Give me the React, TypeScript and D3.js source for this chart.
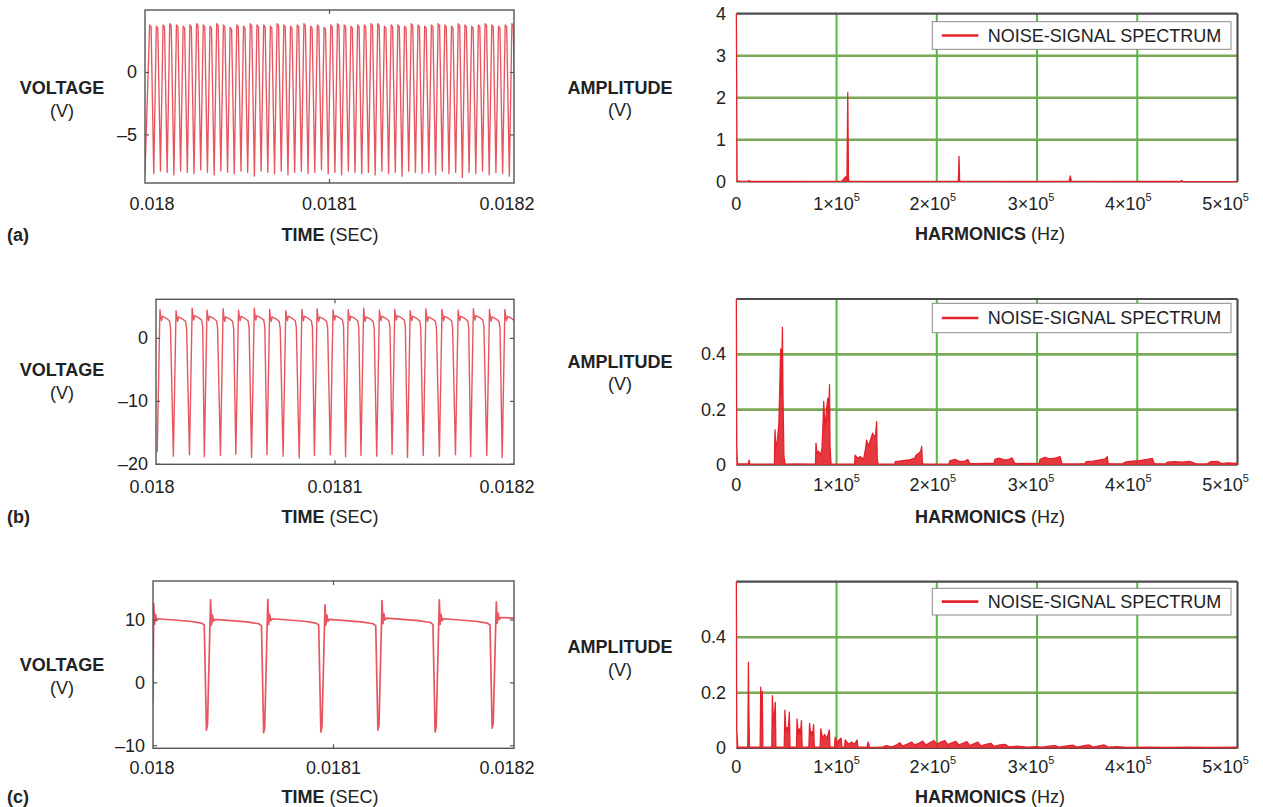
import React from "react";
import * as d3 from "d3";

const FONT = "'Liberation Sans', Arial, Helvetica, sans-serif";
const RED = "#e3222c";

// ---------------- DATA ----------------
const timeTicks = [0.018, 0.0181, 0.0182];
const timeTickLabels = ["0.018", "0.0181", "0.0182"];
const freqTicks = [0, 1e5, 2e5, 3e5, 4e5, 5e5];
const freqTickMantissa = ["0", "1", "2", "3", "4", "5"];
const legendLabel = "NOISE-SIGNAL SPECTRUM";

// (a) per-cycle maxima / minima of the voltage trace (V)
const aHigh = [
  3.8, 3.7, 3.8, 3.9, 3.8, 3.7, 3.8, 3.9,
  3.8, 3.7, 3.9, 3.8, 3.6, 3.8, 3.7, 3.9,
  3.8, 3.8, 3.7, 3.9, 3.8, 3.7, 3.8, 3.9,
  3.7, 3.8, 3.6, 3.8, 3.9, 3.8, 3.7, 3.8,
  3.8, 3.9, 3.9, 3.7, 3.8, 3.8, 3.7, 3.9,
  3.8, 3.7, 3.8, 3.9, 3.8, 3.7, 3.9, 3.8,
  3.7, 3.8, 3.9, 3.8, 3.7, 3.8, 3.9, 3.8,
];
const aLow = [
  -8.1, -7.9, -8.0, -8.2, -7.9, -8.0, -8.1, -7.8,
  -8.0, -8.2, -7.9, -8.0, -8.1, -7.9, -8.0, -8.3,
  -7.9, -8.0, -8.1, -7.9, -8.2, -8.0, -7.9, -8.1,
  -8.0, -7.8, -8.1, -8.0, -8.2, -7.9, -8.0, -8.1,
  -8.0, -8.2, -7.9, -8.1, -8.0, -8.3, -7.9, -8.0,
  -8.1, -8.0, -8.2, -7.9, -8.1, -8.0, -8.4, -8.0,
  -8.1, -7.9, -8.2, -8.0, -8.1, -8.3, -8.0, -8.1,
];
const aVoltTicks = [0, -5];
const aVoltLabels = ["0", "\u20135"];

// (b) spike instants (µs after 0.018 s), spike / plateau / trough levels (V)
const bSpikeTimesUs = [
  2.2, 11.2, 20.2, 28.5, 37.5, 46.1, 54.9, 63.5, 72.5, 81.5, 90.0, 98.9,
  107.4, 116.0, 124.8, 133.4, 142.0, 150.8, 159.8, 168.8, 177.3, 186.3, 194.9,
];
const bSpike = [
  4.6, 4.4, 4.8, 4.5, 4.7, 4.5, 4.8, 4.6, 4.4, 4.6, 4.7, 4.5,
  4.6, 4.8, 4.5, 4.6, 4.4, 4.7, 4.6, 4.5, 4.7, 4.6, 4.6,
];
const bPlateau = [
  3.2, 3.1, 3.3, 3.2, 3.1, 3.2, 3.3, 3.1, 3.2, 3.2, 3.1, 3.3,
  3.2, 3.1, 3.2, 3.3, 3.2, 3.1, 3.2, 3.2, 3.3, 3.1, 3.2,
];
const bTrough = [
  -18.0, -18.7, -18.5, -18.8, -18.6, -18.4, -18.9, -18.5, -18.7, -19.0, -18.6, -18.5,
  -18.8, -18.6, -18.7, -18.4, -18.9, -18.6, -18.7, -18.5, -18.8, -18.6, -18.9,
];
const bVoltTicks = [0, -10, -20];
const bVoltLabels = ["0", "\u201310", "\u201320"];

// (c)
const cStartV = -3.2;
const cSpikeTimesUs = [0.4, 31.9, 63.6, 95.3, 126.9, 158.6, 190.2];
const cSpike = [12.6, 13.2, 13.3, 12.4, 13.1, 13.2, 12.9];
const cPlateau = [10.1, 10.0, 10.1, 10.0, 10.2, 10.1, 10.3];
const cFallTimesUs = [28.4, 60.1, 91.8, 123.4, 155.1, 186.7];
const cTrough = [-7.5, -7.9, -7.8, -7.5, -7.8, -7.2];
const cVoltTicks = [10, 0, -10];
const cVoltLabels = ["10", "0", "\u201310"];

// spectra: [frequency kHz, amplitude V]
const specA: [number, number][] = [
  [0, 4.3], [0.8, 0.02], [5, 0.01], [12, 0.01], [12.7, 0.03], [13.5, 0.005],
  [60, 0.005], [105, 0.008], [109.2, 0.12], [109.8, 0.04], [110.4, 0.06],
  [111.2, 2.12], [111.9, 0.05], [113, 0.008], [160, 0.005], [220, 0.008],
  [221.6, 0.02], [222.2, 0.6], [222.8, 0.015], [280, 0.005], [332, 0.01],
  [333.2, 0.14], [334.2, 0.01], [400, 0.005], [443.5, 0.005], [444.5, 0.03],
  [445.5, 0.005], [500, 0.004],
];
const specATicks = [0, 1, 2, 3, 4];
const specAGrid = [1, 2, 3];

const specB: [number, number][] = [
  [0, 0.7], [0.4, 0.07], [1.2, 0.004], [12, 0.004], [12.8, 0.018], [13.5, 0.003],
  [38, 0.003], [38.6, 0.127], [39.5, 0.06], [41, 0.09], [42.5, 0.15], [43.5, 0.3],
  [44.3, 0.42], [45, 0.25], [46.0, 0.497], [46.5, 0.27], [47.5, 0.03], [48.7, 0.003],
  [60, 0.004], [79, 0.003], [79.5, 0.079], [80.5, 0.04], [82, 0.05], [84, 0.035],
  [85.5, 0.06], [86.5, 0.15], [87.2, 0.23], [88.5, 0.13], [90, 0.2], [91.3, 0.242],
  [92, 0.16], [93, 0.29], [93.5, 0.067], [94.5, 0.003], [118, 0.003], [118.5, 0.036],
  [121, 0.025], [124, 0.03], [127, 0.02], [129, 0.06], [130, 0.09], [131.5, 0.07],
  [133, 0.08], [136, 0.115], [137.5, 0.1], [139, 0.11], [140, 0.157], [140.6, 0.02],
  [141.5, 0.003], [158, 0.003], [158.5, 0.012], [165, 0.015], [172, 0.018],
  [178, 0.025], [179.5, 0.036], [182, 0.042], [184, 0.05], [185, 0.067], [185.6, 0.006],
  [187, 0.003], [212, 0.003], [213, 0.015], [218, 0.02], [223, 0.012], [228, 0.014],
  [231, 0.02], [233, 0.005], [240, 0.005], [250, 0.006], [257, 0.006], [258, 0.02],
  [262, 0.025], [268, 0.018], [272, 0.02], [275, 0.026], [278, 0.005], [290, 0.006],
  [302, 0.005], [303, 0.02], [308, 0.028], [312, 0.022], [318, 0.025], [323, 0.03],
  [325, 0.004], [340, 0.004], [348, 0.005], [349, 0.012], [356, 0.014], [362, 0.018],
  [368, 0.022], [370, 0.03], [371, 0.005], [385, 0.004], [388, 0.01], [395, 0.014],
  [402, 0.016], [410, 0.02], [415, 0.024], [417, 0.005], [428, 0.004], [430, 0.01],
  [437, 0.012], [445, 0.01], [452, 0.013], [459, 0.004], [470, 0.004], [473, 0.012],
  [480, 0.013], [484, 0.005], [490, 0.008], [500, 0.006],
];
const specC: [number, number][] = [
  [0, 0.7], [0.4, 0.07], [1.5, 0.004], [11.5, 0.004], [12.1, 0.31], [12.5, 0.15],
  [13.1, 0.004], [23.8, 0.004], [24.4, 0.22], [25.0, 0.1], [25.9, 0.205], [26.5, 0.004],
  [35.4, 0.004], [36.0, 0.19], [37.2, 0.08], [38.9, 0.165], [39.5, 0.004],
  [47.8, 0.004], [48.5, 0.137], [49.5, 0.06], [50.7, 0.075], [51.8, 0.06], [52.9, 0.13],
  [53.6, 0.004], [60.0, 0.004], [60.6, 0.105], [61.8, 0.05], [62.8, 0.07], [63.9, 0.05],
  [65.0, 0.1], [65.7, 0.004], [72.4, 0.004], [73.1, 0.09], [74.3, 0.045], [75.1, 0.06],
  [76.1, 0.045], [77.1, 0.085], [77.8, 0.004], [83.6, 0.004], [84.3, 0.07], [86, 0.035],
  [88, 0.05], [90.5, 0.035], [92.8, 0.066], [93.5, 0.004], [98, 0.004], [98.6, 0.04],
  [100.5, 0.02], [102.5, 0.03], [104.6, 0.036], [105.3, 0.004], [108, 0.004],
  [108.6, 0.03], [112, 0.015], [115, 0.022], [118, 0.015], [120.5, 0.03], [121.2, 0.004],
  [130.5, 0.004], [131.5, 0.022], [133, 0.004], [140, 0.003], [146, 0.005], [150, 0.01],
  [155, 0.004], [160, 0.012], [163, 0.02], [166, 0.008], [170, 0.014], [175, 0.022],
  [178, 0.012], [182, 0.018], [186, 0.026], [189, 0.012], [193, 0.02], [197, 0.028],
  [200, 0.015], [204, 0.022], [208, 0.028], [211, 0.013], [215, 0.02], [219, 0.025],
  [222, 0.012], [226, 0.018], [230, 0.024], [233, 0.01], [237, 0.016], [241, 0.022],
  [244, 0.009], [249, 0.014], [254, 0.018], [257, 0.007], [263, 0.012], [268, 0.014],
  [272, 0.005], [280, 0.008], [290, 0.004], [298, 0.006], [305, 0.004], [312, 0.008],
  [318, 0.01], [322, 0.004], [330, 0.009], [336, 0.011], [340, 0.004], [347, 0.01],
  [352, 0.012], [356, 0.004], [363, 0.01], [367, 0.012], [371, 0.004], [380, 0.006],
  [390, 0.003], [410, 0.004], [430, 0.003], [450, 0.004], [470, 0.003], [500, 0.004],
];
const specBCTicks = [0, 0.2, 0.4];
const specBCTickLabels = ["0", "0.2", "0.4"];
const specBCGrid = [0.2, 0.4];

// ---------------- LAYOUT ----------------
const SPEC_X0 = 736.3;
const SPEC_X1 = 1237.5;
const LEG_X0 = 932.3;
const LEG_X1 = 1231;
const FREQ_LABEL_DX = [0, 0, -4, -6, -9, -12];
const TIME_LABEL_X = [152, null, 507];
const FS = 18;
const TRACE_WIDTH = [1.35, 1.4, 1.7];

const ROWS = [
  {
    label: "(a)", labelY: 235,
    time: { x0: 145, x1: 514, yTop: 10, yBot: 183, dom: [-8.85, 5.0], tickY: 204, titleY: 235, ylabY: 88, yunitY: 111 },
    spec: { yTop: 13.7, yBot: 181.7, dom: [0, 4], tickY: 204, titleY: 234, ylabY: 87.5, yunitY: 110, legY0: 21.7, legY1: 49.3 },
  },
  {
    label: "(b)", labelY: 517,
    time: { x0: 156, x1: 514, yTop: 299.3, yBot: 464.3, dom: [-20, 6.2], tickY: 487, titleY: 517, ylabY: 370, yunitY: 393 },
    spec: { yTop: 299, yBot: 465, dom: [0, 0.6], tickY: 485, titleY: 517, ylabY: 362, yunitY: 384, legY0: 303.3, legY1: 332.7 },
  },
  {
    label: "(c)", labelY: 797,
    time: { x0: 153, x1: 514, yTop: 581, yBot: 748.3, dom: [-10.4, 16.2], tickY: 768, titleY: 797, ylabY: 665, yunitY: 688 },
    spec: { yTop: 581.7, yBot: 748.3, dom: [0, 0.6], tickY: 767, titleY: 797, ylabY: 647, yunitY: 670, legY0: 588.3, legY1: 615 },
  },
];

// ---------------- TRACE BUILDERS ----------------
const us = (u: number) => 0.018 + u * 1e-6;

function buildA(): [number, number][] {
  const cyc = d3.scaleLinear().domain([0, aHigh.length - 1]).range([us(2.5), us(202.5)]);
  const pts: [number, number][] = [[us(0), aLow[0]]];
  aHigh.forEach((h, i) => {
    pts.push([cyc(i), h]);
    pts.push([cyc(i + 0.22), h - 0.15]);
    pts.push([cyc(i + 0.62), aLow[i]]);
  });
  return pts;
}

function buildB(): [number, number][] {
  const pts: [number, number][] = [];
  bSpikeTimesUs.forEach((s, k) => {
    const p = bPlateau[k];
    pts.push([us(s - 1.5), bTrough[k]]);
    pts.push([us(s), bSpike[k]]);
    pts.push([us(s + 0.5), p + 0.2]);
    pts.push([us(s + 0.9), p - 0.4]);
    pts.push([us(s + 1.4), p + 0.3]);
    pts.push([us(s + 3.5), p]);
    pts.push([us(s + 5.3), p - 0.4]);
    pts.push([us(s + 5.9), p - 1.5]);
  });
  return pts;
}

function buildC(): [number, number][] {
  const pts: [number, number][] = [[us(0), cStartV]];
  cSpikeTimesUs.forEach((s, k) => {
    const p = cPlateau[k];
    pts.push([us(s), cSpike[k]]);
    pts.push([us(s + 0.5), p - 0.8]);
    pts.push([us(s + 1.0), p + 0.8]);
    pts.push([us(s + 1.6), p - 0.2]);
    pts.push([us(s + 2.5), p + 0.1]);
    if (k < cFallTimesUs.length) {
      const f = cFallTimesUs[k];
      pts.push([us(f - 8), p - 0.3]);
      pts.push([us(f - 1.5), p - 0.6]);
      pts.push([us(f), p - 0.9]);
      pts.push([us(f + 1.2), cTrough[k]]);
      pts.push([us(f + 1.8), cTrough[k] + 0.8]);
    } else {
      pts.push([us(200), p]);
    }
  });
  return pts;
}

// ---------------- PANELS ----------------
function TimePanel({ id, cfg, points, ticks, tickLabels, strokeW }: any) {
  const x = d3.scaleLinear().domain([0.018, 0.0182]).range([cfg.x0, cfg.x1]);
  const y = d3.scaleLinear().domain(cfg.dom).range([cfg.yBot, cfg.yTop]);
  const line = d3.line<[number, number]>().x((d) => x(d[0])).y((d) => y(d[1]));
  const w = cfg.x1 - cfg.x0;
  const h = cfg.yBot - cfg.yTop;
  const midX = x(0.0181);
  return (
    <g>
      <defs>
        <clipPath id={id}>
          <rect x={cfg.x0} y={cfg.yTop} width={w} height={h} />
        </clipPath>
      </defs>
      <rect x={cfg.x0} y={cfg.yTop} width={w} height={h} fill="#fff" />
      <path d={line(points) || ""} clipPath={`url(#${id})`} fill="none" stroke="#e2303c" strokeWidth={strokeW} strokeOpacity={0.82} strokeLinejoin="round" />
      <rect x={cfg.x0} y={cfg.yTop} width={w} height={h} fill="none" stroke="#555" strokeWidth={1.4} />
      <line x1={midX} x2={midX} y1={cfg.yTop} y2={cfg.yTop + 4} stroke="#555" strokeWidth={1.2} />
      <line x1={midX} x2={midX} y1={cfg.yBot} y2={cfg.yBot - 4} stroke="#555" strokeWidth={1.2} />
      {ticks.map((t: number, i: number) => (
        <g key={i}>
          <line x1={cfg.x0} x2={cfg.x0 + 4} y1={y(t)} y2={y(t)} stroke="#555" strokeWidth={1.2} />
          <line x1={cfg.x1} x2={cfg.x1 - 4} y1={y(t)} y2={y(t)} stroke="#555" strokeWidth={1.2} />
          <text x={cfg.x0 - 8} y={y(t)} textAnchor="end" dominantBaseline="central" fontSize={FS}>
            {tickLabels[i]}
          </text>
        </g>
      ))}
      {timeTicks.map((t, i) => (
        <text key={i} x={TIME_LABEL_X[i] ?? x(t)} y={cfg.tickY} textAnchor="middle" dominantBaseline="central" fontSize={FS}>
          {timeTickLabels[i]}
        </text>
      ))}
      <text x={330} y={cfg.titleY} textAnchor="middle" dominantBaseline="central" fontSize={FS}>
        <tspan fontWeight="bold">TIME</tspan> (SEC)
      </text>
      <text x={62} y={cfg.ylabY} textAnchor="middle" dominantBaseline="central" fontSize={FS} fontWeight="bold">
        VOLTAGE
      </text>
      <text x={62} y={cfg.yunitY} textAnchor="middle" dominantBaseline="central" fontSize={FS}>
        (V)
      </text>
    </g>
  );
}

function SpecPanel({ id, cfg, data, ticks, tickLabels, grid }: any) {
  const x = d3.scaleLinear().domain([0, 5e5]).range([SPEC_X0, SPEC_X1]);
  const y = d3.scaleLinear().domain(cfg.dom).range([cfg.yBot, cfg.yTop]);
  const pts: [number, number][] = data.map((d: [number, number]) => [d[0] * 1000, d[1]]);
  const line = d3.line<[number, number]>().x((d) => x(d[0])).y((d) => y(d[1]));
  const area = d3.area<[number, number]>().x((d) => x(d[0])).y0(y(0)).y1((d) => y(d[1]));
  const w = SPEC_X1 - SPEC_X0;
  const legMid = (cfg.legY0 + cfg.legY1) / 2;
  return (
    <g>
      <defs>
        <clipPath id={id}>
          <rect x={SPEC_X0 - 1.5} y={cfg.yTop} width={w + 3} height={cfg.yBot - cfg.yTop + 1.5} />
        </clipPath>
      </defs>
      <rect x={SPEC_X0} y={cfg.yTop} width={w} height={cfg.yBot - cfg.yTop} fill="#fff" />
      {grid.map((g: number, i: number) => (
        <line key={"h" + i} x1={SPEC_X0} x2={SPEC_X1} y1={y(g)} y2={y(g)} stroke="#6b9f45" strokeWidth={2.6} strokeOpacity={0.9} />
      ))}
      {freqTicks.slice(1, -1).map((f, i) => (
        <line key={"v" + i} x1={x(f)} x2={x(f)} y1={cfg.yTop} y2={cfg.yBot} stroke="#56b947" strokeWidth={2} />
      ))}
      <line x1={SPEC_X0} x2={SPEC_X1} y1={cfg.yTop} y2={cfg.yTop} stroke="#4d4d4d" strokeWidth={2.2} />
      <line x1={SPEC_X1} x2={SPEC_X1} y1={cfg.yTop} y2={cfg.yBot} stroke="#4d4d4d" strokeWidth={2.2} />
      <line x1={SPEC_X0} x2={SPEC_X1} y1={cfg.yBot} y2={cfg.yBot} stroke="#4d4d4d" strokeWidth={1.6} />
      <g clipPath={`url(#${id})`}>
        <path d={area(pts) || ""} fill={RED} fillOpacity={0.9} />
        <path d={line(pts) || ""} fill="none" stroke={RED} strokeWidth={1.3} strokeLinejoin="round" />
      </g>
      <rect x={LEG_X0} y={cfg.legY0} width={LEG_X1 - LEG_X0} height={cfg.legY1 - cfg.legY0} fill="#fff" stroke="#8a8a8a" strokeWidth={1} />
      <line x1={LEG_X0 + 9.5} x2={LEG_X0 + 46} y1={legMid} y2={legMid} stroke={RED} strokeWidth={2.6} />
      <text x={LEG_X0 + 55.5} y={legMid} dominantBaseline="central" fontSize={FS}>
        {legendLabel}
      </text>
      {ticks.map((t: number, i: number) => (
        <text key={"yt" + i} x={726} y={y(t)} textAnchor="end" dominantBaseline="central" fontSize={FS}>
          {tickLabels[i]}
        </text>
      ))}
      {freqTicks.map((f, i) => (
        <text key={"xt" + i} x={x(f) + FREQ_LABEL_DX[i]} y={cfg.tickY} textAnchor="middle" dominantBaseline="central" fontSize={FS}>
          {i === 0 ? (
            freqTickMantissa[i]
          ) : (
            <>
              {freqTickMantissa[i]}×10
              <tspan dy={-7} fontSize={11}>5</tspan>
            </>
          )}
        </text>
      ))}
      <text x={990} y={cfg.titleY} textAnchor="middle" dominantBaseline="central" fontSize={FS}>
        <tspan fontWeight="bold">HARMONICS</tspan> (Hz)
      </text>
      <text x={620} y={cfg.ylabY} textAnchor="middle" dominantBaseline="central" fontSize={FS} fontWeight="bold">
        AMPLITUDE
      </text>
      <text x={620} y={cfg.yunitY} textAnchor="middle" dominantBaseline="central" fontSize={FS}>
        (V)
      </text>
    </g>
  );
}

export default function App() {
  const traces = [buildA(), buildB(), buildC()];
  const voltTicks = [aVoltTicks, bVoltTicks, cVoltTicks];
  const voltLabels = [aVoltLabels, bVoltLabels, cVoltLabels];
  const specs = [specA, specB, specC];
  const specTicks = [specATicks, specBCTicks, specBCTicks];
  const specTickLabels = [specATicks.map(String), specBCTickLabels, specBCTickLabels];
  const specGrid = [specAGrid, specBCGrid, specBCGrid];
  return (
    <svg
      width={1263}
      height={807}
      style={{ position: "absolute", left: 0, top: 0, background: "#fff" }}
      fontFamily={FONT}
      fill="#222"
    >
      {ROWS.map((row, r) => (
        <g key={r}>
          <TimePanel id={`tclip${r}`} cfg={row.time} points={traces[r]} ticks={voltTicks[r]} tickLabels={voltLabels[r]} strokeW={TRACE_WIDTH[r]} />
          <SpecPanel id={`sclip${r}`} cfg={row.spec} data={specs[r]} ticks={specTicks[r]} tickLabels={specTickLabels[r]} grid={specGrid[r]} />
          <text x={7} y={row.labelY} dominantBaseline="central" fontSize={FS} fontWeight="bold">
            {row.label}
          </text>
        </g>
      ))}
    </svg>
  );
}
